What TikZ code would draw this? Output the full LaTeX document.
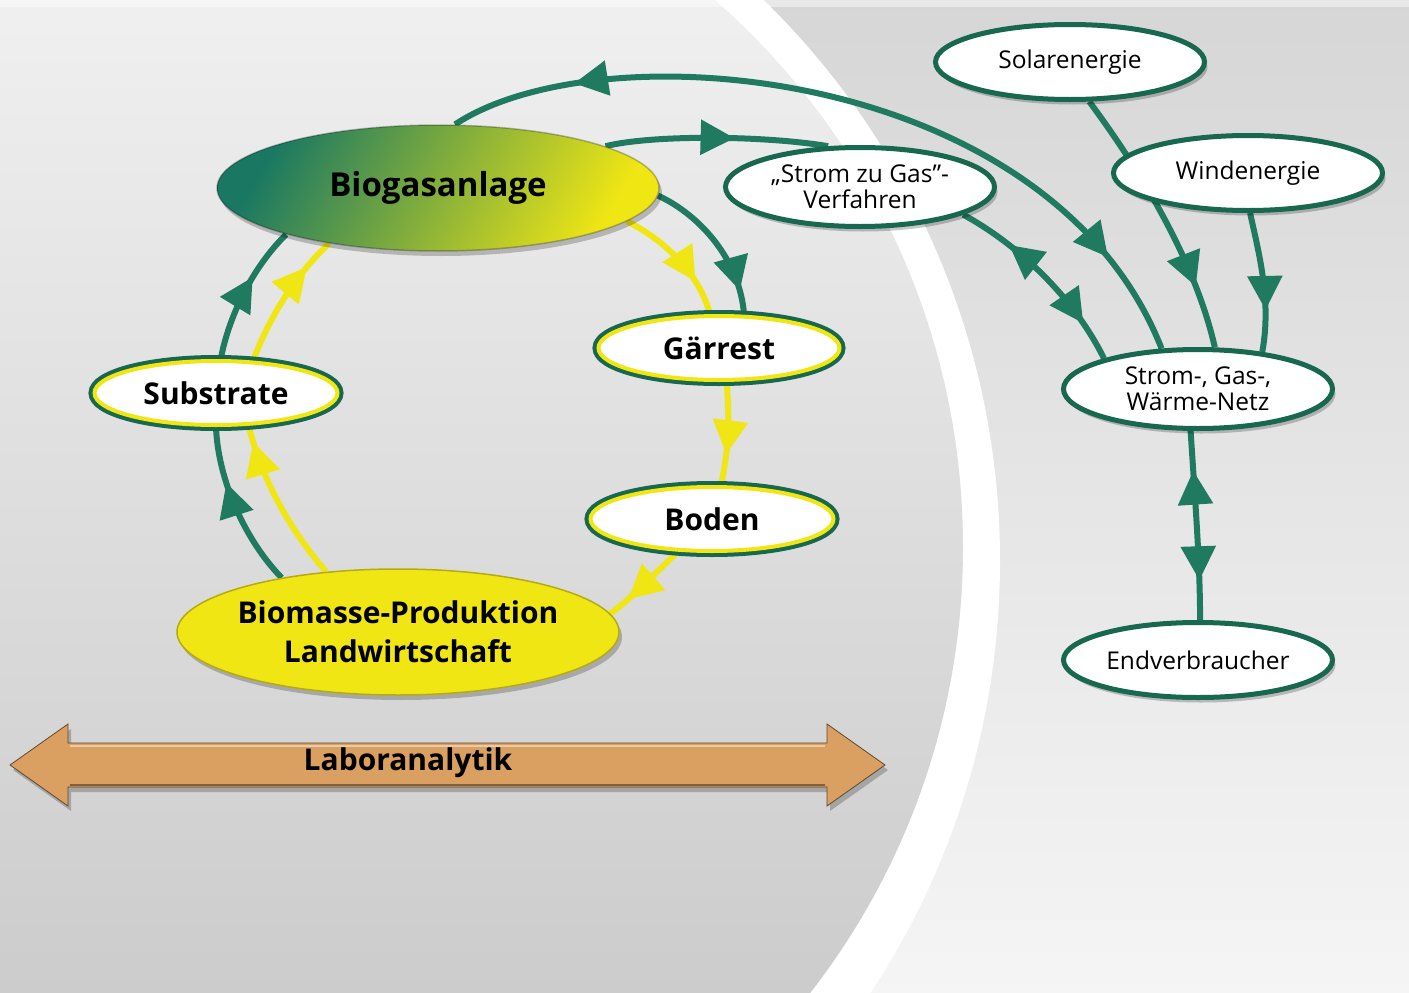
\documentclass[tikz,border=0pt]{standalone}
\usepackage{fontspec}
\setmainfont{Open Sans}
\usetikzlibrary{shapes.geometric,arrows.meta,decorations.markings,shadows}
\definecolor{gc}{HTML}{1F7A60}
\definecolor{gborder}{HTML}{17684F}
\definecolor{yc}{HTML}{F0E614}
\definecolor{tealc}{HTML}{1A7862}
\definecolor{midgc}{HTML}{A2C23C}
\definecolor{orc}{HTML}{D9A062}
\pgfdeclarelayer{bg}
\pgfdeclarelayer{lines}
\pgfsetlayers{bg,lines,main}
\begin{document}
\begin{tikzpicture}[x=1pt,y=-1pt,
  shad/.style={drop shadow={shadow xshift=3pt,shadow yshift=-5pt,opacity=0.22,fill=black}},
  whitenode/.style={ellipse, shad, fill=white, draw=gborder, line width=5pt, inner sep=0pt,
     minimum width=269pt, minimum height=75pt, font=\fontsize{24.5}{26}\selectfont, align=center},
  ringnode/.style={ellipse, shad, preaction={draw=gborder, line width=12pt}, fill=white,
     draw=yc, line width=4pt, inner sep=0pt, minimum width=243pt, minimum height=64pt,
     font=\fontsize{30}{36}\selectfont\bfseries},
  bignode/.style={ellipse, shad, inner sep=0pt, minimum width=442pt, minimum height=126pt,
     font=\fontsize{30}{39}\selectfont\bfseries, align=center},
  gline/.style={color=gc, line width=6pt},
  yline/.style={color=yc, line width=6pt},
  tipat/.style={postaction={decorate,decoration={markings,
     mark=at position #1 with {\arrow{Triangle[length=34pt,width=34pt]}}}}},
  tipback/.style={postaction={decorate,decoration={markings,
     mark=at position #1 with {\arrowreversed{Triangle[length=34pt,width=34pt]}}}}}
]
\useasboundingbox (0,0) rectangle (1409,993);

% ---------- nodes ----------
\node[bignode, left color=tealc, middle color=midgc, right color=yc, shading angle=60,
      draw=black, draw opacity=0.25, line width=1.5pt, font=\fontsize{33}{39}\selectfont\bfseries]
      (bio) at (438,188) {Biogasanlage};
\node[bignode, fill=yc, draw=yc!75!black, line width=1.5pt, inner xsep=-15pt]
      (bm) at (398,632) {Biomasse-Produktion\\Landwirtschaft};
\node[ringnode] (sub) at (216,393) {Substrate};
\node[ringnode, minimum width=241pt] (gar) at (719,348) {Gärrest};
\node[ringnode] (bod) at (712,519) {Boden};

\node[whitenode, minimum height=79pt] (sgas) at (860,187) {„Strom zu Gas”-\\Verfahren};
\node[whitenode] (solar) at (1070,62) {Solarenergie};
\node[whitenode] (wind) at (1248,173) {Windenergie};
\node[whitenode, minimum height=79pt] (net) at (1198,389) {Strom-, Gas-,\\Wärme-Netz};
\node[whitenode] (end) at (1198,660) {Endverbraucher};

% ---------- Laboranalytik arrow ----------
\draw[fill=orc, draw=orc!45!black, line width=0.8pt, shad]
  (10,765) -- (68,724) -- (68,743) -- (827,743) -- (827,724) -- (885,765)
  -- (827,806) -- (827,787) -- (68,787) -- (68,806) -- cycle;
\draw[orc!55!white, line width=2pt] (70,745.5) -- (825,745.5);
\draw[orc!60!black, line width=2pt] (70,784.5) -- (825,784.5);
\node[font=\fontsize{30}{36}\selectfont\bfseries] (lab) at (408,763) {Laboranalytik};

% ---------- background ----------
\begin{pgfonlayer}{bg}
  \shade[top color=black!16, bottom color=black!4] (0,0) rectangle (1409,993);
  \fill[white] (216,561) circle (784pt);
  \begin{scope}
    \clip (236,547) circle (727pt);
    \shade[top color=black!6, bottom color=black!20] (0,0) rectangle (1409,993);
  \end{scope}
  \fill[white, opacity=0.45] (0,0) rectangle (1409,7);
\end{pgfonlayer}

% ---------- connectors ----------
\begin{pgfonlayer}{lines}
  \draw[gline, tipback=0.155, tipat=0.87] (bio.75) .. controls (600,28) and (1050,65) .. (net.132);
  \draw[gline, tipat=0.58] (bio.14) .. controls (650,135) and (760,135) .. (sgas.128);
  \draw[gline, tipback=0.27, tipat=0.80] (sgas.-15) .. controls (1010,240) and (1070,290) .. (net.162);
  \draw[gline, tipat=0.77] (solar.-64) .. controls (1140,170) and (1195,260) .. (net.68);
  \draw[gline, tipat=0.70] (wind.-87) .. controls (1258,250) and (1272,300) .. (net.30);
  \draw[gline, tipback=0.21, tipat=0.79] (net.-100) .. controls (1195,500) and (1200,560) .. (end.87);
  \draw[gline, tipat=0.84] (bio.-2) .. controls (700,215) and (740,260) .. (gar.53);
  \draw[yline, tipat=0.72] (bio.-10) .. controls (665,240) and (700,275) .. (gar.105);
  \draw[yline, tipat=0.70] (gar.-77) .. controls (730,430) and (728,450) .. (bod.75);
  \draw[yline, tipat=0.75] (bod.-136) .. controls (650,578) and (630,600) .. (bm.5);
  \draw[yline, tipat=0.90] (bm.140) .. controls (290,530) and (262,480) .. (sub.-45);
  \draw[gline, tipat=0.66] (bm.155) .. controls (245,540) and (218,480) .. (sub.-90);
  \draw[yline, tipat=0.77] (sub.41) .. controls (268,320) and (295,275) .. (bio.-153);
  \draw[gline, tipat=0.62] (sub.82) .. controls (228,320) and (250,270) .. (bio.-163);
\end{pgfonlayer}
\end{tikzpicture}
\end{document}
